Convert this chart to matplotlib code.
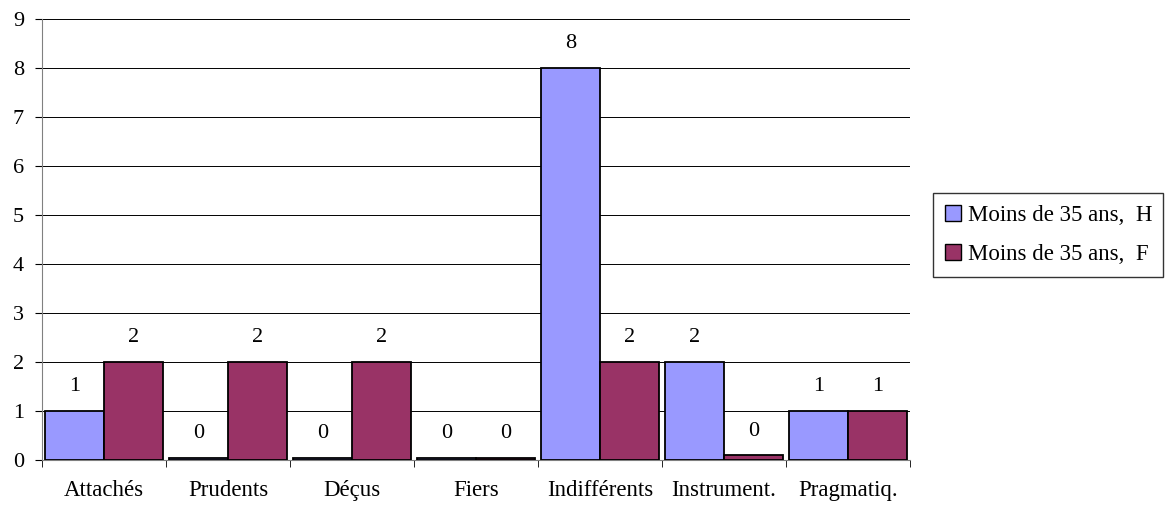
import numpy as np
import matplotlib.pyplot as plt
from matplotlib.patches import Patch

categories = ['Attachés', 'Prudents', 'Déçus', 'Fiers', 'Indifférents', 'Instrument.', 'Pragmatiq.']
hommes = [1, 0, 0, 0, 8, 2, 1]
femmes = [2, 2, 2, 0, 2, 0.1, 1]
series_names = ['Moins de 35 ans,  H', 'Moins de 35 ans,  F']
colors = ['#9999FF', '#993366']

plt.rcParams['font.family'] = ['Liberation Serif', 'DejaVu Serif']

fig = plt.figure(figsize=(11.65, 5.09), dpi=100)
ax = fig.add_axes([0.036, 0.096, 0.745, 0.867])

x = np.arange(len(categories))
w = 0.475
for off, vals, c in [(-w / 2, hommes, colors[0]), (w / 2, femmes, colors[1])]:
    # zero values are drawn as a thin flat bar, like the original
    heights = [v if v > 0 else 0.04 for v in vals]
    ax.bar(x + off, heights, w, color=c, edgecolor='black', linewidth=1.3, zorder=3)
    for xi, v, h in zip(x + off, vals, heights):
        ax.text(xi, h + 0.3, '%.0f' % v, ha='center', va='bottom', fontsize=16, zorder=4)

ax.set_xlim(-0.5, len(categories) - 0.5)
ax.set_ylim(0, 9)
ax.set_yticks(range(10))
ax.set_xticks(x)
ax.set_xticklabels(categories, fontsize=16.5)
ax.set_xticks(np.arange(len(categories) + 1) - 0.5, minor=True)
ax.tick_params(axis='x', which='major', length=0, pad=14)
ax.tick_params(axis='x', which='minor', length=5, direction='out')
ax.tick_params(axis='y', length=5, direction='out', labelsize=16, pad=8)
ax.yaxis.grid(True, color='black', linewidth=0.7, zorder=0)
for s in ['top', 'right']:
    ax.spines[s].set_visible(False)
for s in ['left', 'bottom']:
    ax.spines[s].set_color('#808080')

handles = [Patch(facecolor=c, edgecolor='black', label=n) for c, n in zip(colors, series_names)]
fig.legend(handles=handles, loc='center left', bbox_to_anchor=(0.801, 0.538), fontsize=16.5,
           frameon=True, fancybox=False, edgecolor='black', handlelength=0.7, handleheight=0.7,
           handletextpad=0.3, labelspacing=0.8, borderpad=0.5, borderaxespad=0)

fig.savefig('out.png', dpi=100)
